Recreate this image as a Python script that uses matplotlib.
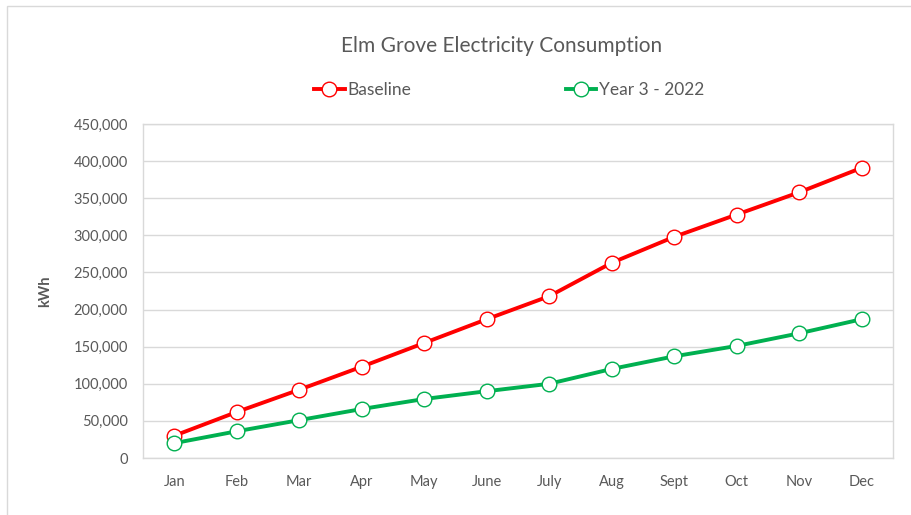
import matplotlib
matplotlib.use("Agg")
import matplotlib.pyplot as plt
from matplotlib.patches import Rectangle

months = ["Jan", "Feb", "Mar", "Apr", "May", "June", "July", "Aug", "Sept", "Oct", "Nov", "Dec"]
baseline = [30000, 62000, 92000, 123000, 155000, 187000, 218000, 263000, 298000, 328000, 358000, 391000]
year3 = [20000, 36000, 51000, 66000, 79500, 90000, 100000, 120000, 137000, 151000, 168000, 187000]
yticks = list(range(0, 450001, 50000))

plt.rcParams['font.family'] = ['Lato', 'DejaVu Sans']
W, H = 911, 515
fig = plt.figure(figsize=(W / 100, H / 100), dpi=100)
fig.patch.set_facecolor("white")

# outer chart border (cropped at right/bottom)
fig.patches.append(Rectangle((7 / W, -0.1), 1.2, 1 - 6 / H + 0.1, transform=fig.transFigure,
                             fill=False, edgecolor="#d9d9d9", linewidth=1.0))

ax = fig.add_axes([143 / W, 1 - 458 / H, (893 - 143) / W, (458 - 124) / H])
x = list(range(len(months)))
grid_c = "#d9d9d9"
txt_c = "#595959"

ax.plot(x, baseline, color="#FF0000", lw=2.8, marker="o", ms=10.5, mfc="white",
        mec="#FF0000", mew=1.0, zorder=3, label="Baseline")
ax.plot(x, year3, color="#00B050", lw=2.8, marker="o", ms=10.5, mfc="white",
        mec="#00B050", mew=1.0, zorder=3, label="Year 3 - 2022")

ax.set_xlim(-0.5, len(months) - 0.5)
ax.set_ylim(0, 450000)
ax.set_yticks(yticks)
ax.set_yticklabels([f"{v:,}" for v in yticks])
ax.set_xticks(x)
ax.set_xticklabels(months)
ax.yaxis.grid(True, color=grid_c, lw=1.0)
ax.set_axisbelow(True)
for s in ax.spines.values():
    s.set_color(grid_c)
    s.set_linewidth(1.0)
ax.tick_params(axis="both", length=0, colors=txt_c, labelsize=10.5)
ax.tick_params(axis="y", pad=11)
ax.tick_params(axis="x", pad=12)

fig.text(45 / W, 1 - 291 / H, "kWh", rotation=90, ha="center", va="center",
         fontsize=10.5, fontweight="bold", color=txt_c)
fig.text(502 / W, 1 - 46 / H, "Elm Grove Electricity Consumption", ha="center", va="center",
         fontsize=15, color=txt_c)

leg = fig.legend(handles=ax.get_lines(), loc="center", bbox_to_anchor=(509 / W, 1 - 90 / H),
                 ncol=2, frameon=False, fontsize=12.5, labelcolor=txt_c, handlelength=1.75,
                 handletextpad=0.15, columnspacing=8.9)

fig.savefig("out.png", dpi=100, facecolor="white")
